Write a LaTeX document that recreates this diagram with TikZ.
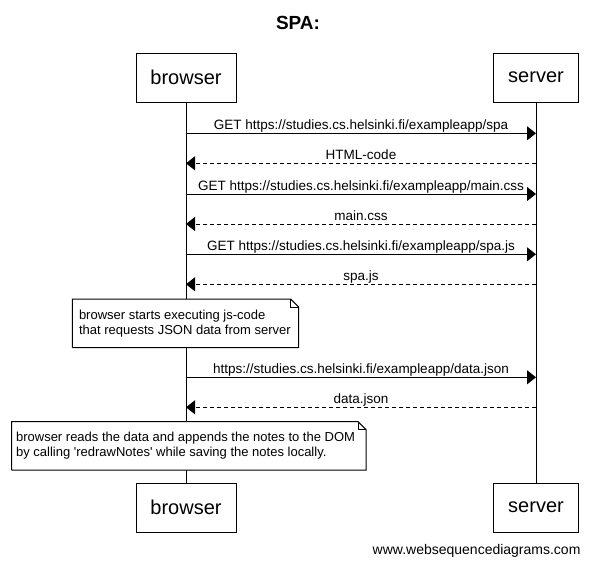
\documentclass[tikz,border=0pt]{standalone}
\usepackage{fontspec}
\newfontfamily\wsdfont{Liberation Sans}
\usetikzlibrary{arrows.meta, positioning}

\begin{document}
\begin{tikzpicture}[
        x = 1pt, y = -1pt, node distance = 350pt, on grid,
        >= {Triangle[length = 9pt, width = 14pt]},
        every node/.style = {font = \wsdfont\fontsize{13}{15}\selectfont},
        actor/.style = {draw, fill = white, line width = 1pt, minimum height = 49pt,
            font = \wsdfont\fontsize{20}{24}\selectfont},
        call/.style = {->, line width = 1pt},
        reply/.style = {->, line width = 1pt, dash pattern = on 4pt off 3pt},
        msg/.style = {midway, anchor = base, yshift = 4pt, inner sep = 0pt,
            font = \wsdfont\fontsize{13.5}{15}\selectfont},
        note/.style = {align = left, inner sep = 0pt, minimum height = 48pt}
    ]
      \useasboundingbox (0, 0) rectangle (594, 566);

      \node[font = \wsdfont\bfseries\fontsize{19}{22}\selectfont] (title) at (298, 23) {SPA:};

      \node[actor, minimum width = 100pt] (browser_top) at (186, 77.5) {browser};
      \node[actor, minimum width = 85pt] (server_top) [right = of browser_top] {server};
      \node[actor, minimum width = 100pt] (browser_bot) [below = 430pt of browser_top] {browser};
      \node[actor, minimum width = 85pt] (server_bot) [below = 430pt of server_top] {server};

      % lifelines
      \draw[line width = 1pt] (browser_top) -- (browser_bot);
      \draw[line width = 1pt] (server_top) -- (server_bot);
      \node[actor, minimum width = 100pt] at (browser_top) {browser};
      \node[actor, minimum width = 85pt] at (server_top) {server};
      \node[actor, minimum width = 100pt] at (browser_bot) {browser};
      \node[actor, minimum width = 85pt] at (server_bot) {server};

      \coordinate (b1) at (186, 133.3);  \coordinate (s1) at (536, 133.3);
      \coordinate (b2) at (186, 163.3);  \coordinate (s2) at (536, 163.3);
      \coordinate (b3) at (186, 194);    \coordinate (s3) at (536, 194);
      \coordinate (b4) at (186, 224);    \coordinate (s4) at (536, 224);
      \coordinate (b5) at (186, 254.3);  \coordinate (s5) at (536, 254.3);
      \coordinate (b6) at (186, 284.3);  \coordinate (s6) at (536, 284.3);
      \coordinate (b7) at (186, 377.3);  \coordinate (s7) at (536, 377.3);
      \coordinate (b8) at (186, 407.3);  \coordinate (s8) at (536, 407.3);

      \draw[call] (b1) -- node[msg] {GET https://studies.cs.helsinki.fi/exampleapp/spa} (s1);
      \draw[reply] (s2) -- node[msg] {HTML-code} (b2);
      \draw[call] (b3) -- node[msg] {GET https://studies.cs.helsinki.fi/exampleapp/main.css} (s3);
      \draw[reply] (s4) -- node[msg] {main.css} (b4);
      \draw[call] (b5) -- node[msg] {GET https://studies.cs.helsinki.fi/exampleapp/spa.js} (s5);
      \draw[reply] (s6) -- node[msg] {spa.js} (b6);
      \draw[call] (b7) -- node[msg] {https://studies.cs.helsinki.fi/exampleapp/data.json} (s7);
      \draw[reply] (s8) -- node[msg] {data.json} (b8);

      % notes over browser
      \node[note, minimum width = 226pt] (note_js) at (185.5, 323.3) {};
      \draw[line width = 1pt, fill = white] (note_js.south west) |- ([xshift = -8pt]note_js.north east)
          -- ([yshift = -8pt]note_js.north east) |- (note_js.south west);
      \draw[line width = 1pt] ([xshift = -8pt]note_js.north east) |- ([yshift = -8pt]note_js.north east);
      \node[note, anchor = west] at ([xshift = 6.5pt]note_js.west)
          {browser starts executing js-code\\that requests JSON data from server};

      \node[note, minimum width = 354pt] (note_dom) at (188.8, 445.9) {};
      \draw[line width = 1pt, fill = white] (note_dom.south west) |- ([xshift = -8pt]note_dom.north east)
          -- ([yshift = -8pt]note_dom.north east) |- (note_dom.south west);
      \draw[line width = 1pt] ([xshift = -8pt]note_dom.north east) |- ([yshift = -8pt]note_dom.north east);
      \node[note, anchor = west] at ([xshift = 4.3pt]note_dom.west)
          {browser reads the data and appends the notes to the DOM\\by calling 'redrawNotes' while saving the notes locally.};

      \node[anchor = east, font = \wsdfont\fontsize{14}{16}\selectfont] (credit) at (584, 551) {www.websequencediagrams.com};
    \end{tikzpicture}
\end{document}
